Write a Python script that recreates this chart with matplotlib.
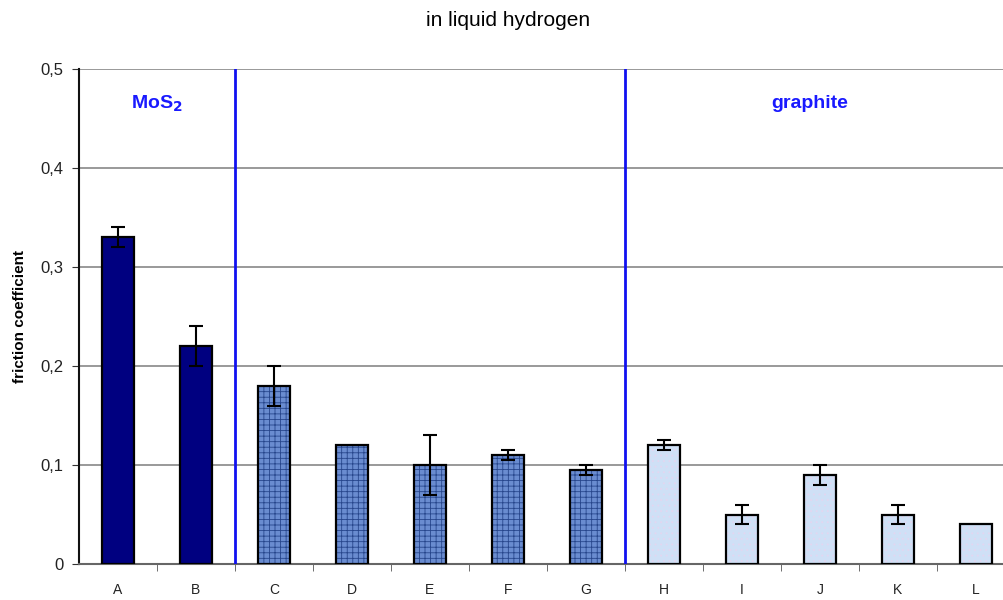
import matplotlib
matplotlib.use("Agg")
import matplotlib.pyplot as plt
import numpy as np

plt.rcParams['font.family'] = ['Liberation Sans', 'DejaVu Sans']
plt.rcParams['hatch.linewidth'] = 0.6

categories = ['A', 'B', 'C', 'D', 'E', 'F', 'G', 'H', 'I', 'J', 'K', 'L']
values = [0.33, 0.22, 0.18, 0.12, 0.10, 0.11, 0.095, 0.12, 0.05, 0.09, 0.05, 0.04]
errors = [0.01, 0.02, 0.02, 0.0, 0.03, 0.005, 0.005, 0.005, 0.01, 0.01, 0.01, 0.0]
groups = ['MoS2', 'MoS2', 'mid', 'mid', 'mid', 'mid', 'mid',
          'graphite', 'graphite', 'graphite', 'graphite', 'graphite']
yticks = [0, 0.1, 0.2, 0.3, 0.4, 0.5]
ytick_labels = ['0', '0,1', '0,2', '0,3', '0,4', '0,5']
group_lines = [1.5, 6.5]

face = {'MoS2': '#000080', 'mid': '#6a8cd0', 'graphite': '#cfe0f6'}
hatchcol = {'MoS2': None, 'mid': '#27468c', 'graphite': '#e3d6f0'}
hatches = {'MoS2': None, 'mid': '+++', 'graphite': '...'}

W, H = 1004, 600
fig = plt.figure(figsize=(W / 100, H / 100), dpi=100)
ax = fig.add_axes([79 / W, (H - 564) / H, (W - 79) / W, (564 - 69) / H])

x = np.arange(len(categories))
for xi, v, g in zip(x, values, groups):
    if hatches[g]:
        ax.bar(xi, v, width=0.4, color=face[g], edgecolor=hatchcol[g],
               hatch=hatches[g], linewidth=0, zorder=3)
        ax.bar(xi, v, width=0.4, color='none', edgecolor='black',
               linewidth=1.6, zorder=4)
    else:
        ax.bar(xi, v, width=0.4, color=face[g], edgecolor='black',
               linewidth=1.6, zorder=3)

err_x = [xi for xi, e in zip(x, errors) if e > 0]
err_v = [v for v, e in zip(values, errors) if e > 0]
err_e = [e for e in errors if e > 0]
ax.errorbar(err_x, err_v, yerr=err_e, fmt='none', ecolor='black',
            elinewidth=1.5, capsize=5, capthick=1.5, zorder=5)

for gl in group_lines:
    ax.axvline(gl, color='#1010f0', linewidth=2, zorder=6)

ax.set_xlim(-0.5, (W - 79) / 78 - 0.5)
ax.set_ylim(0, 0.5)
ax.set_yticks(yticks)
ax.set_yticklabels(ytick_labels, fontsize=12, color='#222222')
ax.set_xticks(x)
ax.set_xticklabels(categories, fontsize=10, color='#222222')
ax.tick_params(axis='x', length=0, pad=14)
ax.set_xticks(np.arange(0.5, len(categories) - 0.5, 1), minor=True)
ax.tick_params(axis='x', which='minor', length=5, color='#555555', direction='out')
ax.tick_params(axis='y', length=5, direction='out', color='#333333', pad=6)

ax.yaxis.grid(True, color='#888888', linewidth=1.2, zorder=0)
ax.set_axisbelow(True)
for s in ['top', 'right']:
    ax.spines[s].set_visible(False)
ax.spines['left'].set_color('#111111')
ax.spines['left'].set_linewidth(1.5)
ax.spines['bottom'].set_color('#666666')
ax.spines['bottom'].set_linewidth(1.5)

ax.set_ylabel('friction coefficient', fontsize=11, fontweight='bold', labelpad=10)
fig.text(508 / W, 1 - 20 / H, 'in liquid hydrogen', ha='center', va='center', fontsize=15)

ax.text(0.5, 0.465, 'MoS$_\\mathbf{2}$', ha='center', va='center', fontsize=14,
        fontweight='bold', color='#1a1aff')
ax.text(8.87, 0.465, 'graphite', ha='center', va='center', fontsize=14,
        fontweight='bold', color='#1a1aff')

fig.savefig('out.png', dpi=100)
